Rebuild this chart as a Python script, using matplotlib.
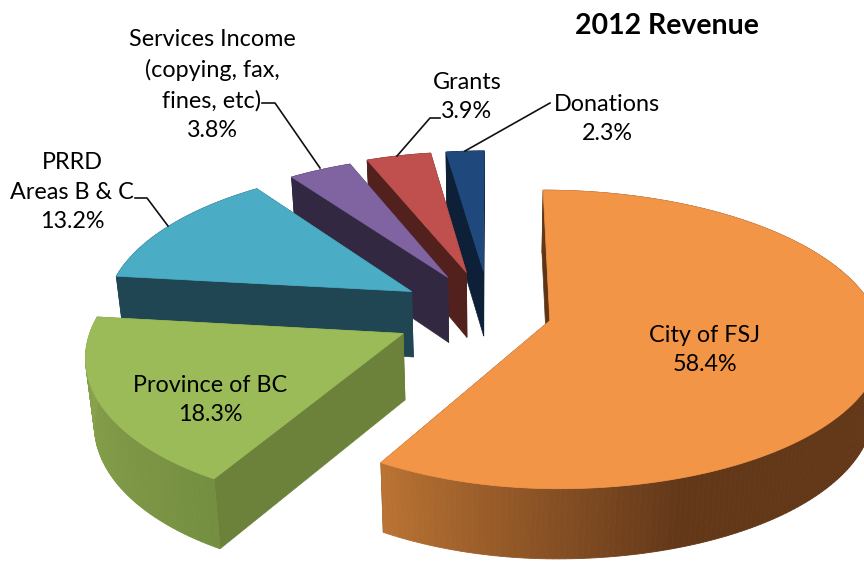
import numpy as np
import matplotlib.pyplot as plt
from matplotlib.colors import to_rgb
from matplotlib.patches import Polygon

# Дані діаграми
names = ["City of FSJ", "Province of BC", "PRRD\nAreas B & C",
         "Services Income\n(copying, fax,\nfines, etc)", "Grants", "Donations"]
shares = [58.4, 18.3, 13.2, 3.8, 3.9, 2.3]

# Вигляд секторів
explode = [0.20, 0.31, 0.30, 0.29, 0.30, 0.30]
top_colors = ["#F39547", "#9BBB59", "#4BACC6", "#8064A2", "#C0504D", "#1F497D"]
cut_colors = ["#5E3617", "#6C823A", "#1F4652", "#332842", "#52201D", "#0D2038"]
wall_front = ["#BC7434", "#8DA64F", "#1F4652", "#332842", "#52201D", "#0D2038"]
wall_back = ["#633819", "#758F41", "#1F4652", "#332842", "#52201D", "#0D2038"]
label_xy = [(705, 350), (210, 400), (72, 192), (212, 85), (467, 97), (607, 119)]

# Параметри перспективи
cx, cy = 490, 313
f, fk = 308, 145
p = 0.125
depth = 66
converge = 0.022
right_stretch = 0.06


def project(x, y, z=0.0):
    w = 1 + p * y
    x = x + right_stretch * np.clip(x - 0.2, 0, None)
    sx = cx + f * x / w
    sy = cy - fk * y / w + z * depth / (1 + 0.45 * p * y)
    sx = sx + z * converge * (cx - sx)
    return np.column_stack([sx, sy])


fig = plt.figure(figsize=(8.64, 5.61), dpi=100)
ax = fig.add_axes([0, 0, 1, 1])
ax.set_xlim(0, 864)
ax.set_ylim(561, 0)
ax.axis("off")

total = sum(shares)
edges = np.concatenate([[0], np.cumsum(shares)]) / total * 2 * np.pi

# Малюємо від заднього сектора до переднього
for i in range(len(shares) - 1, -1, -1):
    a0, a1 = edges[i], edges[i + 1]
    mid = (a0 + a1) / 2
    ox, oy = explode[i] * np.sin(mid), explode[i] * np.cos(mid)
    t = np.linspace(a0, a1, max(int((a1 - a0) * 60), 8))
    ax_x, ax_y = ox + np.sin(t), oy + np.cos(t)

    # Бічні грані розрізу
    for a in (a1, a0):
        rx = np.array([ox, ox + np.sin(a)])
        ry = np.array([oy, oy + np.cos(a)])
        pts = np.vstack([project(rx, ry), project(rx, ry, 1)[::-1]])
        ax.add_patch(Polygon(pts, fc=cut_colors[i], ec=cut_colors[i], lw=0.5, zorder=i * -3))

    # Зовнішня стінка з градієнтом
    c_front, c_back = np.array(to_rgb(wall_front[i])), np.array(to_rgb(wall_back[i]))
    top = project(ax_x, ax_y)
    bot = project(ax_x, ax_y, 1)
    for j in range(len(t) - 1):
        if i == 0:
            g = np.clip((a1 - t[j]) / 0.87, 0, 1)
        else:
            g = 1 - np.clip((t[j] - a0) / (a1 - a0), 0, 1)
        col = c_front + (c_back - c_front) * g
        quad = np.vstack([top[j:j + 2], bot[j:j + 2][::-1]])
        ax.add_patch(Polygon(quad, fc=col, ec=col, lw=0.6, zorder=i * -3 + 1))

    # Верхня грань
    face = np.vstack([project(np.array([ox]), np.array([oy])), top])
    ax.add_patch(Polygon(face, fc=top_colors[i], ec=top_colors[i], lw=0.5, zorder=i * -3 + 2))

# Підписи
for name, share, (lx, ly) in zip(names, shares, label_xy):
    ax.text(lx, ly, f"{name}\n{share:.1f}%", ha="center", va="center", fontsize=16.8,
            family="Lato", color="black", linespacing=1.5, zorder=5)

ax.text(667, 26, "2012 Revenue", ha="center", va="center", fontsize=20.5, family="Lato",
        weight="bold", zorder=5)

# Виноски
leaders = [[(262, 103), (275, 103), (320, 168)],
           [(440, 118), (430, 118), (397, 156)],
           [(550, 103), (465, 151)],
           [(135, 198), (147, 198), (168, 226)]]
for line in leaders:
    xs, ys = zip(*line)
    ax.plot(xs, ys, color="#111111", lw=1.2, zorder=4)

fig.savefig("out.png", dpi=100)
